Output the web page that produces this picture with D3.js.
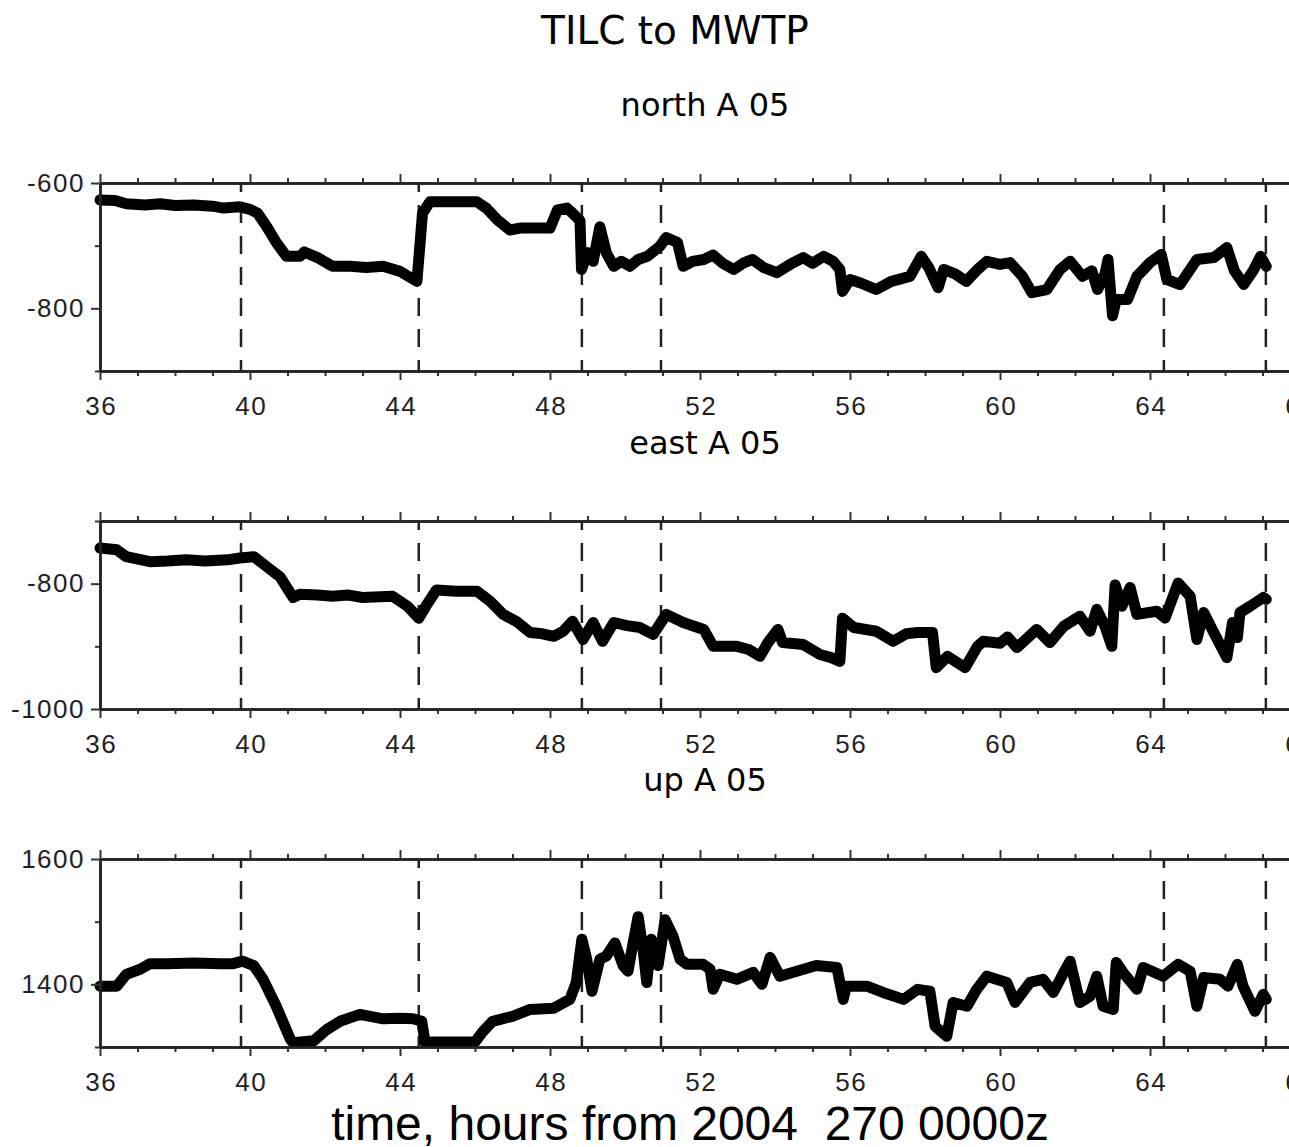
<!DOCTYPE html>
<html>
<head>
<meta charset="utf-8">
<script src="https://cdn.jsdelivr.net/npm/d3@7"></script>
<style>
  body { margin: 0; background: #fff; }
  svg { display: block; }
</style>
</head>
<body>
<div id="chart"></div>
<script>
// hours since 2004 day 270 0000z
const hourTicks = [36, 40, 44, 48, 52, 56, 60, 64, 68];
const eventHours = [39.76, 44.5, 48.85, 50.96, 64.37, 67.09];

const northHours = [36.0, 36.4, 36.7, 37.2, 37.6, 38.0, 38.5, 39.0, 39.3, 39.73, 40.0, 40.2, 40.45, 40.7, 40.97, 41.33, 41.45, 41.8, 42.2, 42.67, 43.1, 43.55, 44.0, 44.45, 44.53, 44.6, 44.8, 45.4, 46.05, 46.3, 46.6, 46.93, 47.2, 47.6, 48.0, 48.2, 48.45, 48.6, 48.8, 48.84, 49.0, 49.15, 49.33, 49.5, 49.7, 49.9, 50.13, 50.35, 50.6, 50.93, 51.1, 51.4, 51.55, 51.8, 52.1, 52.35, 52.6, 52.9, 53.15, 53.4, 53.7, 54.05, 54.4, 54.75, 55.0, 55.3, 55.55, 55.73, 55.8, 56.0, 56.3, 56.7, 57.1, 57.6, 57.9, 58.1, 58.35, 58.5, 58.8, 59.1, 59.4, 59.65, 60.0, 60.27, 60.6, 60.85, 61.25, 61.6, 61.87, 62.2, 62.45, 62.6, 62.8, 62.88, 63.0, 63.1, 63.4, 63.65, 64.0, 64.3, 64.45, 64.8, 65.25, 65.7, 66.05, 66.25, 66.5, 66.75, 66.95, 67.1];
const northValues = [-627, -628, -633, -635, -633, -636, -635, -637, -640, -638, -642, -648, -670, -695, -717, -717, -710, -719, -733, -733, -735, -733, -741, -757, -700, -648, -630, -630, -630, -640, -659, -675, -672, -672, -672, -643, -640, -648, -660, -738, -711, -725, -670, -711, -733, -725, -733, -722, -717, -701, -687, -695, -733, -725, -722, -715, -728, -738, -728, -722, -735, -743, -730, -719, -728, -717, -725, -738, -773, -754, -760, -770, -757, -749, -717, -735, -767, -738, -745, -757, -738, -725, -730, -727, -749, -775, -770, -738, -725, -749, -740, -770, -745, -722, -812, -786, -786, -749, -727, -714, -754, -762, -722, -719, -703, -740, -762, -740, -717, -733];

const eastHours = [36.0, 36.45, 36.7, 37.33, 37.8, 38.3, 38.8, 39.4, 39.73, 40.1, 40.45, 40.8, 41.15, 41.33, 41.8, 42.2, 42.6, 43.0, 43.8, 44.2, 44.5, 44.7, 44.97, 45.5, 46.05, 46.4, 46.75, 47.1, 47.47, 47.8, 48.1, 48.35, 48.6, 48.88, 49.15, 49.4, 49.7, 50.05, 50.4, 50.75, 51.1, 51.55, 52.1, 52.35, 52.98, 53.3, 53.6, 53.8, 54.08, 54.2, 54.75, 55.2, 55.5, 55.73, 55.8, 56.1, 56.7, 57.15, 57.5, 57.8, 58.2, 58.3, 58.6, 59.07, 59.4, 59.55, 60.0, 60.2, 60.45, 60.98, 61.33, 61.7, 62.13, 62.4, 62.58, 62.8, 62.98, 63.07, 63.25, 63.47, 63.65, 64.18, 64.4, 64.75, 65.07, 65.25, 65.43, 65.7, 66.05, 66.2, 66.33, 66.4, 66.67, 67.02, 67.1];
const eastValues = [-743, -746, -757, -765, -764, -762, -764, -762, -759, -757, -773, -789, -822, -817, -818, -820, -818, -822, -820, -836, -855, -835, -810, -812, -812, -828, -849, -860, -878, -880, -884, -876, -860, -889, -862, -892, -862, -867, -870, -881, -849, -862, -873, -900, -900, -905, -916, -895, -873, -894, -897, -913, -918, -924, -855, -870, -876, -892, -880, -878, -878, -934, -916, -934, -900, -892, -895, -885, -902, -873, -894, -868, -852, -876, -841, -868, -900, -802, -836, -806, -849, -844, -855, -799, -820, -889, -846, -878, -918, -862, -886, -846, -836, -822, -825];

const upHours = [36.0, 36.45, 36.7, 37.07, 37.33, 37.8, 38.5, 39.2, 39.55, 39.8, 40.1, 40.35, 40.7, 41.07, 41.15, 41.7, 42.05, 42.4, 42.93, 43.55, 44.0, 44.35, 44.58, 44.67, 44.8, 45.5, 46.0, 46.2, 46.47, 47.0, 47.47, 48.1, 48.53, 48.7, 48.85, 48.98, 49.12, 49.33, 49.5, 49.73, 49.95, 50.08, 50.2, 50.35, 50.48, 50.58, 50.7, 50.88, 51.07, 51.28, 51.47, 51.65, 52.08, 52.27, 52.35, 52.53, 52.98, 53.42, 53.65, 53.87, 54.13, 54.58, 55.1, 55.65, 55.82, 55.9, 56.45, 56.88, 57.43, 57.8, 58.13, 58.27, 58.58, 58.75, 59.12, 59.38, 59.65, 60.18, 60.4, 60.8, 61.15, 61.42, 61.7, 61.87, 62.13, 62.4, 62.58, 62.75, 63.02, 63.1, 63.28, 63.65, 63.82, 64.35, 64.75, 65.07, 65.25, 65.43, 65.87, 66.08, 66.33, 66.48, 66.8, 67.02, 67.1];
const upValues = [1397, 1397, 1416, 1424, 1433, 1433, 1434, 1433, 1433, 1437, 1430, 1408, 1365, 1313, 1307, 1310, 1328, 1341, 1352, 1345, 1346, 1345, 1341, 1307, 1308, 1308, 1308, 1324, 1341, 1349, 1360, 1362, 1376, 1403, 1472, 1440, 1389, 1440, 1445, 1466, 1430, 1421, 1461, 1508, 1456, 1403, 1472, 1430, 1503, 1477, 1440, 1432, 1432, 1424, 1392, 1416, 1408, 1419, 1400, 1443, 1413, 1421, 1430, 1427, 1376, 1397, 1397, 1387, 1376, 1392, 1389, 1333, 1317, 1371, 1365, 1392, 1413, 1403, 1371, 1403, 1408, 1387, 1419, 1437, 1371, 1381, 1413, 1365, 1360, 1435, 1419, 1392, 1427, 1413, 1432, 1421, 1365, 1411, 1408, 1397, 1432, 1397, 1357, 1384, 1376];

const panelNames = ["north A 05", "east A 05", "up A 05"];
const panelDomains = [[-900, -600], [-1000, -700], [1300, 1600]];

const width = 1289, height = 1147;
const plotLeft = 100, plotRight = 1300, panelH = 188;
const panelTops = [183, 521, 859];
const labelY = [116, 454, 791];

const svg = d3.select("#chart").append("svg")
    .attr("width", width)
    .attr("height", height)
    .style("font-family", "'Liberation Sans', Arial, sans-serif");

svg.append("text")
    .attr("x", 675).attr("y", 44)
    .attr("text-anchor", "middle")
    .style("font-family", "'DejaVu Sans', sans-serif")
    .style("font-size", "39px")
    .text("TILC to MWTP");

var x = d3.scaleLinear().domain([36, 68]).range([plotLeft, plotRight]);

var minorHours = d3.range(36, 69).filter(h => h % 4 !== 0);

var series = [
  {hours: northHours, values: northValues},
  {hours: eastHours, values: eastValues},
  {hours: upHours, values: upValues}
];

series.forEach(function(s, i) {
  var dom = panelDomains[i];
  var y = d3.scaleLinear().domain(dom).range([panelH, 0]);

  svg.append("text")
      .attr("x", 705).attr("y", labelY[i])
      .attr("text-anchor", "middle")
      .style("font-family", "'DejaVu Sans', sans-serif")
      .style("font-size", "32px")
      .text(panelNames[i]);

  var g = svg.append("g")
      .attr("transform", "translate(0," + panelTops[i] + ")");

  var majorY = d3.range(dom[0], dom[1] + 1, 100).filter(v => v % 200 === 0);
  var minorY = d3.range(dom[0], dom[1] + 1, 100).filter(v => v % 200 !== 0);

  // event markers
  g.selectAll(".event")
    .data(eventHours)
    .enter().append("line")
      .attr("class", "event")
      .attr("x1", d => x(d)).attr("x2", d => x(d))
      .attr("y1", 0).attr("y2", panelH)
      .attr("stroke", "#222")
      .attr("stroke-width", 2.5)
      .attr("stroke-dasharray", "18,13")
      .attr("stroke-dashoffset", 9);

  // series line
  var line = d3.line()
      .x((d, k) => x(s.hours[k]))
      .y(d => y(d));

  g.append("path")
      .datum(s.values)
      .attr("d", line)
      .attr("fill", "none")
      .attr("stroke", "#000")
      .attr("stroke-width", 11)
      .attr("stroke-linejoin", "round")
      .attr("stroke-linecap", "round");

  // top frame with ticks
  g.append("g")
      .attr("class", "axis")
      .call(d3.axisTop(x).tickValues(minorHours).tickSize(5).tickSizeOuter(0).tickFormat(""));
  g.append("g")
      .attr("class", "axis")
      .call(d3.axisTop(x).tickValues(hourTicks).tickSize(9).tickSizeOuter(0).tickFormat(""));

  // bottom axis
  g.append("g")
      .attr("class", "axis")
      .attr("transform", "translate(0," + panelH + ")")
      .call(d3.axisBottom(x).tickValues(minorHours).tickSize(5).tickSizeOuter(0).tickFormat(""));
  g.append("g")
      .attr("class", "axis labels xl")
      .attr("transform", "translate(0," + panelH + ")")
      .call(d3.axisBottom(x).tickValues(hourTicks).tickSize(9).tickPadding(17).tickSizeOuter(0).tickFormat(d3.format("d")));

  // left axis
  g.append("g")
      .attr("class", "axis")
      .attr("transform", "translate(" + plotLeft + ",0)")
      .call(d3.axisLeft(y).tickValues(minorY).tickSize(5).tickSizeOuter(0).tickFormat(""));
  g.append("g")
      .attr("class", "axis labels yl")
      .attr("transform", "translate(" + plotLeft + ",0)")
      .call(d3.axisLeft(y).tickValues(majorY).tickSize(9).tickPadding(6).tickSizeOuter(0).tickFormat(d3.format("d")));
});

svg.selectAll(".axis path.domain")
    .attr("stroke", "#222")
    .attr("stroke-width", 2.5);
svg.selectAll(".axis .tick line")
    .attr("stroke", "#333")
    .attr("stroke-width", 2);
svg.selectAll(".labels text")
    .attr("fill", "#222")
    .style("font-family", "'Liberation Sans', Arial, sans-serif")
    .style("font-size", "26px")
    .style("letter-spacing", "1.5px");
svg.selectAll(".xl text").attr("dx", "0.75px");
// plain hyphen like the original
svg.selectAll(".labels text").text(function() { return this.textContent.replace("\u2212", "-"); });

svg.append("text")
    .attr("x", 690).attr("y", 1140)
    .attr("text-anchor", "middle")
    .style("font-size", "48px")
    .style("white-space", "pre")
    .attr("xml:space", "preserve")
    .text("time, hours from 2004  270 0000z");
</script>
</body>
</html>
